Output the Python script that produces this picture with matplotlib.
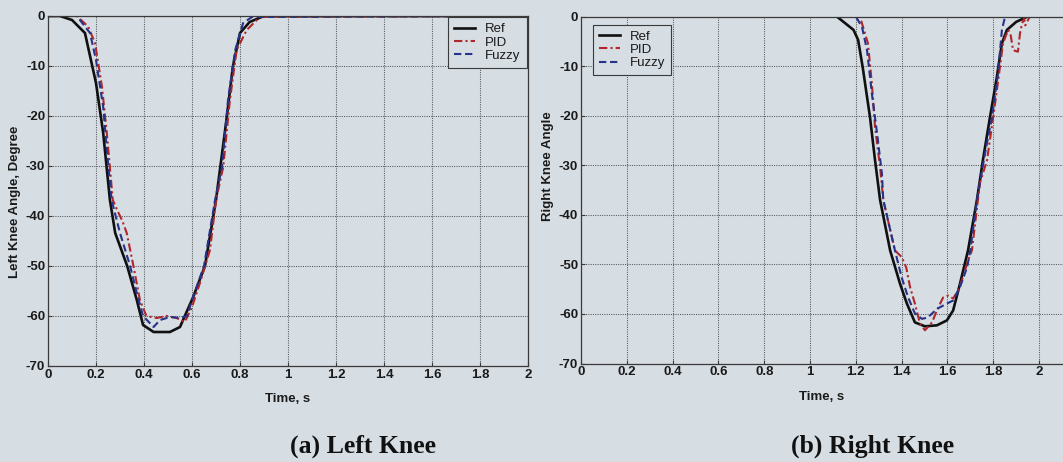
import matplotlib
matplotlib.use("Agg")
import matplotlib.pyplot as plt

# ---- Left knee trajectories (time in s, angle in degrees) ----
left_ref_t = [0, 0.05, 0.1, 0.154, 0.2, 0.23, 0.258, 0.28, 0.33, 0.37, 0.396, 0.44, 0.508,
              0.55, 0.57, 0.605, 0.654, 0.70, 0.745, 0.77, 0.80, 0.84, 0.9, 2.0]
left_ref_a = [0, 0, -0.8, -3.4, -13.4, -23.4, -36.8, -43.4, -50, -56.8, -61.8, -63.2, -63.2,
              -62.2, -60, -56.2, -50, -36.8, -20.2, -10.2, -3.4, -1.2, 0, 0]

left_pid_t = [0, 0.12, 0.167, 0.196, 0.225, 0.245, 0.27, 0.29, 0.31, 0.328, 0.356, 0.383, 0.41,
              0.453, 0.494, 0.536, 0.57, 0.60, 0.633, 0.675, 0.70, 0.73, 0.758, 0.786, 0.828,
              0.883, 2.0]
left_pid_a = [0, 0, -2.1, -5.4, -14.2, -23.4, -36.8, -39, -41, -43.4, -50, -56.8, -60,
              -60.4, -60, -60.4, -61.2, -58.2, -53.4, -46.8, -36.8, -30.2, -16.8, -6.8, -2.8,
              -0.2, 0]

left_fuzzy_t = [0, 0.12, 0.175, 0.2, 0.23, 0.245, 0.265, 0.30, 0.342, 0.37, 0.396, 0.44, 0.467,
                0.508, 0.55, 0.58, 0.60, 0.65, 0.696, 0.725, 0.75, 0.78, 0.813, 0.85, 2.0]
left_fuzzy_a = [0, 0, -3.4, -8.8, -18.2, -26.8, -36.8, -43.4, -50, -55.4, -60, -62.2, -60.8,
                -60.2, -60.4, -60, -56.8, -50, -36.8, -30.2, -16.8, -6.8, -1.4, -0.2, 0]

# ---- Right knee trajectories ----
right_ref_t = [0, 1.117, 1.19, 1.21, 1.23, 1.262, 1.284, 1.306, 1.35, 1.393, 1.423, 1.458,
               1.502, 1.554, 1.598, 1.625, 1.655, 1.69, 1.729, 1.755, 1.786, 1.816, 1.838,
               1.86, 1.9, 1.95, 2.12]
right_ref_a = [0, 0, -2.7, -4.7, -10.2, -20.3, -29, -37, -47.2, -53.9, -57.9, -61.7,
               -62.5, -62.3, -61.3, -59.3, -53.9, -47.2, -37, -29, -20.3, -12.2, -5.4,
               -2.7, -1.1, 0, 0]

right_pid_t = [0, 1.218, 1.24, 1.253, 1.27, 1.284, 1.306, 1.32, 1.371, 1.40, 1.42, 1.437, 1.458,
               1.48, 1.502, 1.533, 1.554, 1.581, 1.603, 1.625, 1.646, 1.668, 1.69, 1.707,
               1.742, 1.773, 1.80, 1.82, 1.843, 1.865, 1.875, 1.887, 1.908, 1.917, 1.926,
               1.935, 1.94, 1.96, 2.12]
right_pid_a = [0, 0, -3.4, -5.4, -13.5, -22.3, -30.4, -37, -47.2, -48.5, -50.6, -54.6, -57.9,
               -61.9, -63.3, -61.7, -59.3, -56.7, -56.3, -56.9, -55.3, -52.6, -49.2, -47.2,
               -33.6, -29, -20.3, -13.5, -5.4, -2.7, -3.4, -6.8, -7.1, -3.4, -1.4,
               -0.4, -1.8, 0, 0]

right_fuzzy_t = [0, 1.20, 1.227, 1.249, 1.27, 1.293, 1.314, 1.32, 1.371, 1.40, 1.428, 1.458,
                 1.489, 1.515, 1.554, 1.598, 1.625, 1.655, 1.686, 1.70, 1.729, 1.764, 1.795,
                 1.821, 1.838, 1.852, 2.12]
right_fuzzy_a = [0, 0, -2.1, -6.8, -15.5, -23.6, -31.7, -37, -47.2, -52.6, -56.6, -59.9,
                 -61, -60.7, -59, -57.9, -57.3, -54.6, -50.6, -47.2, -37, -27.7, -20.3,
                 -11.5, -2.7, 0, 0]

x_ticks = [0, 0.2, 0.4, 0.6, 0.8, 1, 1.2, 1.4, 1.6, 1.8, 2]
x_tick_labels = ["0", "0.2", "0.4", "0.6", "0.8", "1", "1.2", "1.4", "1.6", "1.8", "2"]
y_ticks = [0, -10, -20, -30, -40, -50, -60, -70]
y_tick_labels = ["0", "-10", "-20", "-30", "-40", "-50", "-60", "-70"]
series_names = ["Ref", "PID", "Fuzzy"]
panel_titles = ["(a) Left Knee", "(b) Right Knee"]
y_titles = ["Left Knee Angle, Degree", "Right Knee Angle"]

BG = "#d6dde3"
REF_C = "#101010"
PID_C = "#b0262a"
FUZ_C = "#26338a"
GRID_C = "#55595e"

plt.rcParams["font.family"] = ["Liberation Sans", "DejaVu Sans"]

fig = plt.figure(figsize=(10.63, 4.62), dpi=100, facecolor=BG)
W, H = 1063.0, 462.0


def px_axes(left, top, right, bottom):
    return fig.add_axes([left / W, 1 - bottom / H, (right - left) / W, (bottom - top) / H])


ax_l = px_axes(48, 16, 528, 366)
ax_r = px_axes(581, 16.5, 581 + 2.12 * 229, 363.5)


def style(ax, xmax):
    ax.set_facecolor(BG)
    ax.set_xlim(0, xmax)
    ax.set_ylim(-70, 0)
    ax.set_xticks(x_ticks)
    ax.set_xticklabels(x_tick_labels)
    ax.set_yticks(y_ticks)
    ax.set_yticklabels(y_tick_labels)
    ax.tick_params(direction="in", length=3, width=0.8, color="#3a3a3a",
                   labelsize=9.5, labelcolor="#1a1a1a", pad=2)
    for lbl in ax.get_xticklabels() + ax.get_yticklabels():
        lbl.set_fontweight("bold")
    ax.grid(True, linestyle=(0, (1, 1.2)), color=GRID_C, linewidth=0.75)
    for s in ax.spines.values():
        s.set_color("#3a3a3a")
        s.set_linewidth(0.9)
    ax.set_xlabel("Time, s", fontsize=9.5, fontweight="bold", color="#1a1a1a")


def draw(ax, ref, pid, fuz):
    ax.plot(*ref, color=REF_C, lw=1.9, ls="-", label=series_names[0])
    ax.plot(*pid, color=PID_C, lw=1.5, ls=(0, (4, 1.5, 1, 1.5)), label=series_names[1])
    ax.plot(*fuz, color=FUZ_C, lw=1.5, ls=(0, (3.5, 1.8)), label=series_names[2])


style(ax_l, 2.0)
style(ax_r, 2.12)

draw(ax_l, (left_ref_t, left_ref_a), (left_pid_t, left_pid_a), (left_fuzzy_t, left_fuzzy_a))
draw(ax_r, (right_ref_t, right_ref_a), (right_pid_t, right_pid_a), (right_fuzzy_t, right_fuzzy_a))

ax_l.set_ylabel(y_titles[0], fontsize=9.5, fontweight="bold", color="#1a1a1a")
ax_l.yaxis.set_label_coords(-27 / 480, 0.47)
ax_r.set_ylabel(y_titles[1], fontsize=9.5, fontweight="bold", color="#1a1a1a")
ax_r.yaxis.set_label_coords(-27 / 485, 0.57)
ax_l.xaxis.set_label_coords(0.5, -27 / 350)
ax_r.xaxis.set_label_coords((822 - 581) / 485.5, -27 / 347)

leg_kw = dict(fontsize=9.5, frameon=True, fancybox=False, handlelength=1.6,
              handletextpad=0.75, borderpad=0.45, labelspacing=0.08, framealpha=1)
lg1 = ax_l.legend(loc="upper right", bbox_to_anchor=(1.0, 1.0), borderaxespad=0.1, **leg_kw)
lg2 = ax_r.legend(loc="upper left", bbox_to_anchor=(12 / 485.5, 1 - 8 / 347), borderaxespad=0.0, **leg_kw)
for lg in (lg1, lg2):
    fr = lg.get_frame()
    fr.set_facecolor(BG)
    fr.set_edgecolor("#3a3a3a")
    fr.set_linewidth(0.8)
    for t in lg.get_texts():
        t.set_color("#1a1a1a")

fig.text(363 / W, 1 - 446 / H, panel_titles[0], ha="center", va="center",
         fontsize=18.5, fontweight="bold", family="Liberation Serif", color="#111111")
fig.text(873 / W, 1 - 446 / H, panel_titles[1], ha="center", va="center",
         fontsize=18.5, fontweight="bold", family="Liberation Serif", color="#111111")

fig.savefig("out.png", dpi=100, facecolor=BG)
